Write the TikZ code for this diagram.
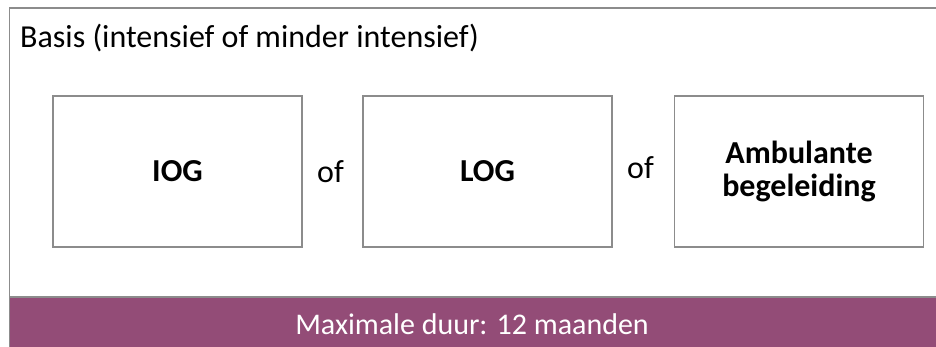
\documentclass[tikz,border=0pt]{standalone}
\usepackage{fontspec}
\setmainfont{Carlito}
\usetikzlibrary{positioning}

\definecolor{kaderGrijs}{RGB}{140,140,140}
\definecolor{balkPaars}{RGB}{147,76,119}

\begin{document}
\begin{tikzpicture}[x=1pt,y=-1pt]
  \tikzset{
  op/.style={
    rectangle,
    draw=kaderGrijs,
    line width=1.6pt,
    minimum width=249pt,
    minimum height=151pt,
    align=center,
    font=\fontsize{32}{29}\selectfont\bfseries
  },
  tekst/.style={
    font=\fontsize{32}{29}\selectfont,
    inner sep=0pt,
    anchor=base
  }
}
\useasboundingbox (0,0) rectangle (936,347);
\fill[balkPaars] (9.5,297) rectangle (937,348);
\draw[kaderGrijs, line width=1.8pt] (937,8) -- (9.5,8) -- (9.5,348);
\draw[kaderGrijs, line width=1.8pt] (9.5,297) -- (937,297);

\node[tekst, anchor=base west] at (20,48)
  (basis) {Basis (intensief of minder intensief)};
\node[op] at (177.5,171.5)
  (iog) {IOG};
\node[op] at (487.5,171.5)
  (log) {LOG};
\node[op] at (799,171.5)
  (ambulant) {Ambulante\\[4pt]begeleiding};
\node[tekst] at (330.5,183)
  (of1) {of};
\node[tekst] at (640.5,179)
  (of2) {of};
\node[tekst, text=white, font=\fontsize{30}{30}\selectfont] at (472,334)
  (duur) {Maximale duur: 12 maanden};

\end{tikzpicture}
\end{document}
